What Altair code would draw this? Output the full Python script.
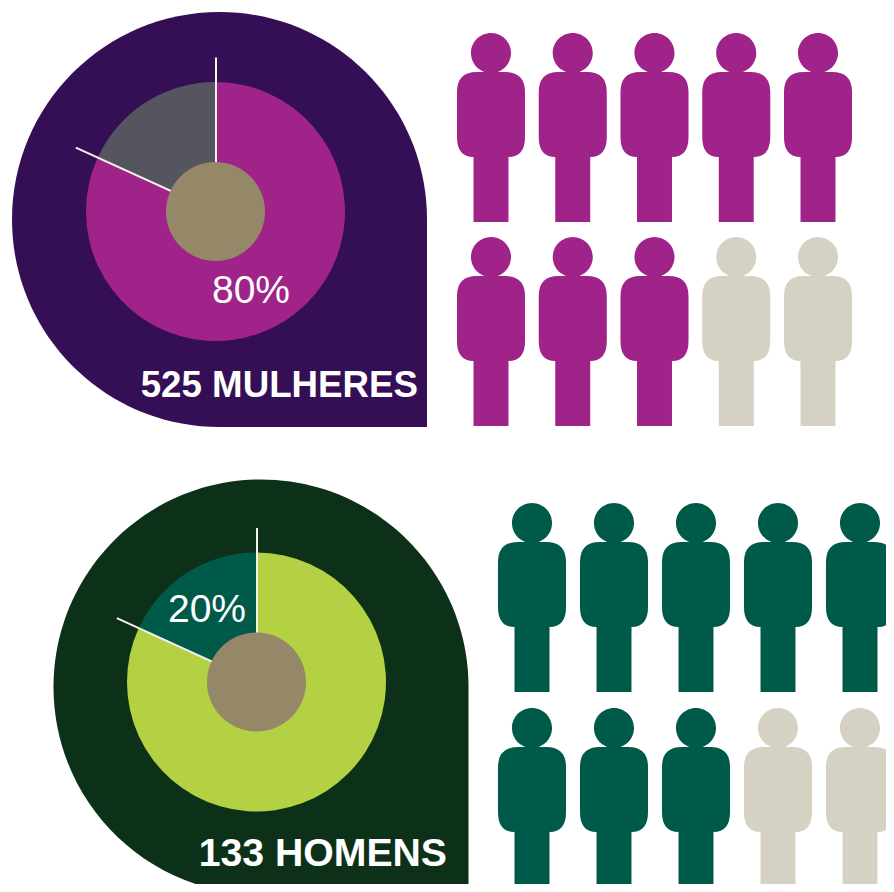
import altair as alt
import pandas as pd

# ---- values ----
slices_women = [81.8, 18.2]
slices_men = [81.8, 18.2]
slice_names = ["principal", "destaque"]
pct_women = ["80%"]
pct_men = ["20%"]
title_women = ["525 MULHERES"]
title_men = ["133 HOMENS"]
people_col = [0, 1, 2, 3, 4, 0, 1, 2, 3, 4]
people_row = [0, 0, 0, 0, 0, 1, 1, 1, 1, 1]
people_on = ["on", "on", "on", "on", "on", "on", "on", "on", "off", "off"]

DROP = "M1,0 L1,1 L0,1 A1,1 0 1 1 1,0 Z"
PERSON = ("M-.36,-.375 Q-.36,-.587 -.15,-.587 L.15,-.587 Q.36,-.587 .36,-.375 "
          "L.36,.10 Q.36,.312 .185,.312 L.185,1 L-.185,1 L-.185,.312 "
          "Q-.36,.312 -.36,.10 Z "
          "M-.212,-.788 A.212,.212 0 1 1 .212,-.788 A.212,.212 0 1 1 -.212,-.788 Z")


def donut_panel(values, pct, title, w, h, drop_c, drop_r, c, pct_xy, title_xy, colors):
    df = pd.DataFrame({"idx": [0, 1], "name": slice_names, "value": values})
    drop = alt.Chart(pd.DataFrame({"k": ["drop"]})).mark_point(
        shape=DROP, filled=True, opacity=1, strokeWidth=0, clip=True,
        size=(2 * drop_r) ** 2, color=colors[0]
    ).encode(x=alt.value(drop_c[0]), y=alt.value(drop_c[1]))
    arcs = alt.Chart(df).mark_arc(outerRadius=129.5, innerRadius=0, clip=True).encode(
        x=alt.value(c[0]), y=alt.value(c[1]),
        theta=alt.Theta("value:Q", stack=True),
        order=alt.Order("idx:Q"),
        color=alt.Color("name:N", legend=None,
                        scale=alt.Scale(domain=slice_names, range=colors[1:3])),
    )
    rules = alt.Chart(df).transform_window(
        cum="sum(value)", sort=[alt.SortField("idx")]
    ).transform_calculate(
        a="datum.cum / 100 * 2 * PI",
        x1=f"{c[0] + 0.5} + 154 * sin(datum.a)",
        y1=f"{c[1]} - 154 * cos(datum.a)",
        x0=f"{c[0] + 0.5}", y0=f"{c[1]}",
    ).mark_rule(color="#f4f2ea", strokeWidth=2).encode(
        x=alt.X("x1:Q", scale=None, axis=None),
        y=alt.Y("y1:Q", scale=None, axis=None),
        x2="x0:Q", y2="y0:Q",
    )
    hub = alt.Chart(pd.DataFrame({"k": ["hub"]})).mark_circle(
        size=99 ** 2, opacity=1, color="#948868"
    ).encode(x=alt.value(c[0]), y=alt.value(c[1]))
    pct_t = alt.Chart(pd.DataFrame({"t": pct})).mark_text(
        font="Liberation Sans", fontSize=39, color="white", align="center", baseline="alphabetic"
    ).encode(x=alt.value(pct_xy[0]), y=alt.value(pct_xy[1]), text="t:N")
    title_t = alt.Chart(pd.DataFrame({"t": title})).mark_text(
        font="Liberation Sans", fontWeight="bold", fontSize=title_xy[2], color="white",
        align="right", baseline="alphabetic"
    ).encode(x=alt.value(title_xy[0]), y=alt.value(title_xy[1]), text="t:N")
    return alt.layer(drop, arcs, rules, hub, pct_t, title_t).properties(width=w, height=h)


def people_panel(w, h, xr, yr, color, clip):
    df = pd.DataFrame({"col": people_col, "row": people_row, "on": people_on})
    return alt.Chart(df).mark_point(
        shape=PERSON, filled=True, opacity=1, strokeWidth=0, clip=clip, size=189 ** 2
    ).encode(
        x=alt.X("col:O", axis=None, scale=alt.Scale(type="point", range=xr, padding=0)),
        y=alt.Y("row:O", axis=None, scale=alt.Scale(type="point", range=yr, padding=0)),
        color=alt.Color("on:N", legend=None,
                        scale=alt.Scale(domain=["on", "off"], range=[color, "#d5d2c3"])),
    ).properties(width=w, height=h)


panels = [
    donut_panel(slices_women, pct_women, title_women, 462, 442,
                (211.5, 211.5), 207.5, (207.5, 203.5), (243, 294.5), (410, 389, 36.7),
                ["#340f55", "#a0238a", "#55555f"]),
    people_panel(416, 442, [21, 348], [119.5, 323.5], "#a0238a", False),
    donut_panel(slices_men, pct_men, title_men, 462, 434,
                (253, 237), 207.5, (248.5, 232), (199, 172), (439, 416, 39.2),
                ["#0c3118", "#b3d143", "#005a4a"]),
    people_panel(416, 434, [62, 390], [147.5, 352.5], "#005a4a", True),
]
chart = alt.concat(*panels, columns=2, spacing=0, bounds="flush").resolve_scale(
    color="independent", x="independent", y="independent"
).properties(padding=0, background="white").configure_view(stroke=None)

chart.save("out.html", embed_options={"renderer": "svg", "actions": False})
